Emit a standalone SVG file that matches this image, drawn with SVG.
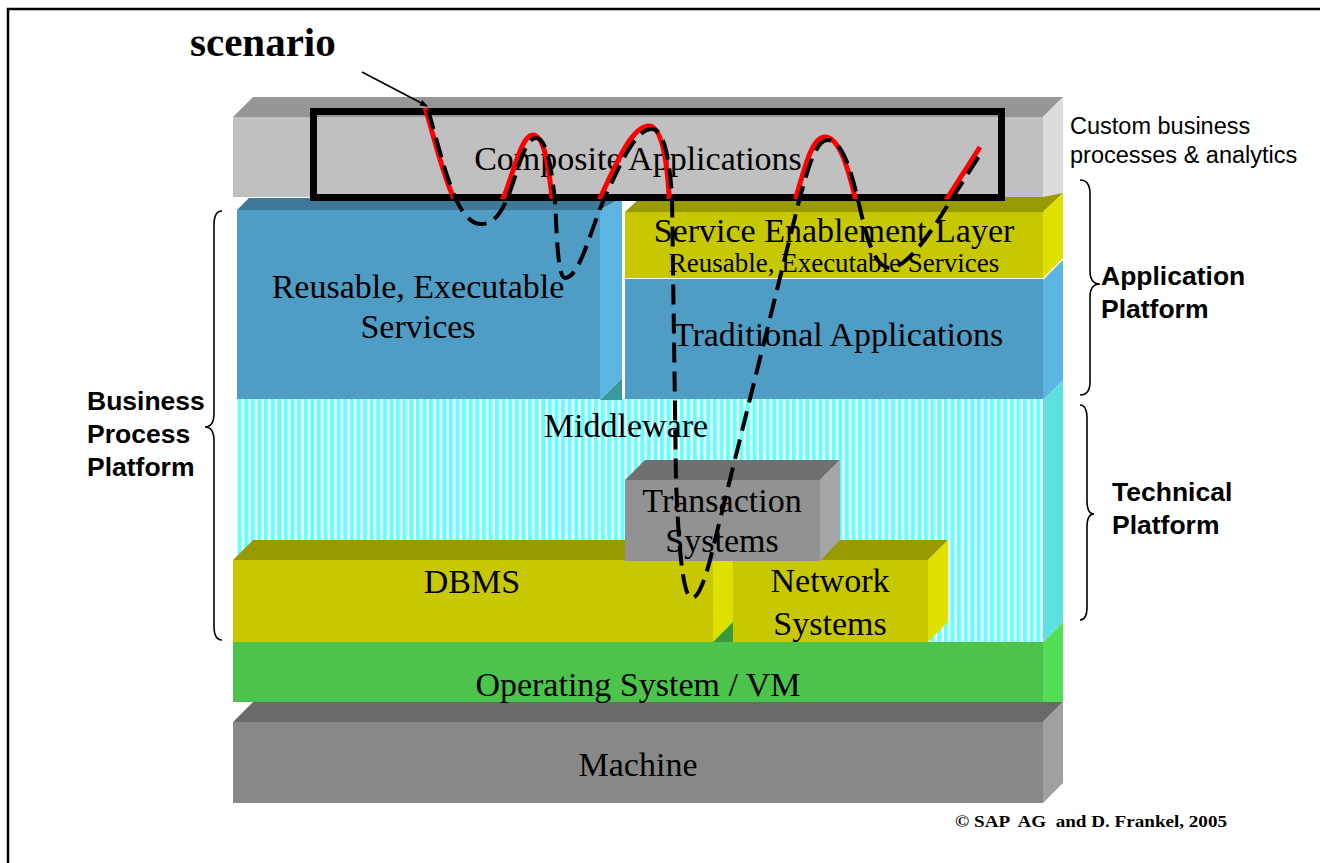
<svg xmlns="http://www.w3.org/2000/svg" width="1320" height="863" viewBox="0 0 1320 863">
<defs>
<style>
.lbl{font-family:"Liberation Serif","Times New Roman",serif;font-size:34px;fill:#000;text-anchor:middle}
.side{font-family:"Liberation Sans",Arial,sans-serif;font-weight:bold;font-size:26.5px;fill:#000}
.brace{fill:none;stroke:#000;stroke-width:1.6}
.scen{fill:none;stroke-linecap:butt;stroke-linejoin:round}
</style>
<pattern id="stripes" width="6.6" height="10" patternUnits="userSpaceOnUse">
<rect width="6.6" height="10" fill="#ffffff"/>
<rect x="0" width="4" height="10" fill="#66ffff"/>
<rect x="4" width="0.8" height="10" fill="#b0ffff"/>
</pattern>
<marker id="ah" markerWidth="8" markerHeight="8" refX="7" refY="4" orient="auto" markerUnits="userSpaceOnUse">
<path d="M0,1 L8,4 L0,7 z" fill="#000"/>
</marker>
<clipPath id="boxclip"><rect x="317" y="108" width="682" height="91"/></clipPath>
</defs>
<rect width="1320" height="863" fill="#fff"/>
<path d="M8,863 V9 H1320" fill="none" stroke="#000" stroke-width="2.5"/>

<g id="machine">
<polygon points="233,722 253,702 1063,702 1043,722" fill="#6a6a6a"/>
<polygon points="1043,722 1063,702 1063,783 1043,803" fill="#a0a0a0"/>
<rect x="233" y="722" width="810" height="81" fill="#888888"/>
<text class="lbl" x="638" y="776">Machine</text>
</g>

<g id="os">
<rect x="233" y="642" width="810" height="60" fill="#4cc44c"/>
<polygon points="1043,642 1063,622 1063,702 1043,702" fill="#55dd55"/>
<text class="lbl" x="638" y="696">Operating System / VM</text>
</g>

<g id="middleware">
<rect x="237" y="399" width="806" height="243" fill="url(#stripes)"/>
<polygon points="1043,400 1063,380 1063,622 1043,642" fill="#5ce0e0"/>
<polygon points="600,400 622,378 622,400" fill="#3a9a9a"/>
<text class="lbl" x="626" y="437">Middleware</text>
</g>

<g id="dbms">
<polygon points="233,560 253,540 733,540 713,560" fill="#999900"/>
<polygon points="713,560 733,540 733,622 713,642" fill="#e0e000"/>
<polygon points="713,642 733,622 733,642" fill="#3a9a3a"/>
<rect x="233" y="560" width="480" height="82" fill="#c8c800"/>
<text class="lbl" x="472" y="593">DBMS</text>
</g>

<g id="network">
<polygon points="733,560 753,540 948,540 928,560" fill="#999900"/>
<polygon points="928,560 948,540 948,622 928,642" fill="#e0e000"/>
<rect x="733" y="560" width="195" height="82" fill="#c8c800"/>
<text class="lbl" x="830" y="592">Network</text>
<text class="lbl" x="830" y="635">Systems</text>
</g>

<g id="transaction">
<polygon points="625,480 645,460 840,460 820,480" fill="#707070"/>
<polygon points="820,480 840,460 840,540 820,561" fill="#a6a6a6"/>
<rect x="625" y="480" width="195" height="81" fill="#929292"/>
<text class="lbl" x="722" y="512">Transaction</text>
<text class="lbl" x="722" y="552">Systems</text>
</g>

<g id="reusable">
<polygon points="237,210 249,198 622,198 600,210" fill="#3d7899"/>
<polygon points="600,210 622,198 622,378 600,400" fill="#5bb5e0"/>
<rect x="237" y="210" width="363" height="189" fill="#4f9cc5"/>
<text class="lbl" x="418" y="298">Reusable, Executable</text>
<text class="lbl" x="418" y="338">Services</text>
</g>

<g id="traditional">
<polygon points="1043,280 1063,260 1063,380 1043,400" fill="#5bb5e0"/>
<rect x="625" y="279" width="418" height="120" fill="#4f9cc5"/>
<text class="lbl" x="838" y="346">Traditional Applications</text>
</g>

<g id="service-enablement">
<polygon points="625,212 645,193 1063,193 1043,212" fill="#999900"/>
<polygon points="1043,212 1063,193 1063,258 1043,278" fill="#e0e000"/>
<rect x="625" y="212" width="418" height="66" fill="#c8c800"/>
<text class="lbl" x="834" y="242">Service Enablement Layer</text>
<text class="lbl" x="834" y="272" style="font-size:27px">Reusable, Executable Services</text>
</g>

<g id="composite">
<polygon points="233,117 253,97 1063,97 1043,117" fill="#969696"/>
<polygon points="1043,117 1063,97 1063,193 1043,197" fill="#dcdcdc"/>
<rect x="233" y="117" width="810" height="80" fill="#c0c0c0"/>
<text class="lbl" x="638" y="170">Composite Applications</text>
<rect x="313.5" y="111.5" width="688" height="86" fill="none" stroke="#000" stroke-width="7"/>
</g>

<g id="labels">
<text x="190" y="56" style="font-family:'Liberation Serif','Times New Roman',serif;font-weight:bold;font-size:41px">scenario</text>
<text x="1070" y="134" style="font-family:'Liberation Sans',Arial,sans-serif;font-size:23.5px">Custom business</text>
<text x="1070" y="163" style="font-family:'Liberation Sans',Arial,sans-serif;font-size:23.5px">processes &amp; analytics</text>
<text class="side" x="1101" y="285">Application</text>
<text class="side" x="1101" y="318">Platform</text>
<text class="side" x="1112" y="501">Technical</text>
<text class="side" x="1112" y="534">Platform</text>
<text class="side" x="87" y="410">Business</text>
<text class="side" x="87" y="443">Process</text>
<text class="side" x="87" y="476">Platform</text>
<text x="955" y="827" textLength="272" lengthAdjust="spacingAndGlyphs" xml:space="preserve" style="font-family:'Liberation Serif','Times New Roman',serif;font-weight:bold;font-size:16px;white-space:pre">© SAP  AG  and D. Frankel, 2005</text>
</g>

<g id="connectors">
<path class="brace" d="M222,211 Q214,211 214,225 L214,413 Q214,427 205,427 Q214,427 214,441 L214,626 Q214,640 222,640"/>
<path class="brace" d="M1080,180 Q1090,180 1090,194 L1090,271 Q1090,284 1100,284 Q1090,284 1090,297 L1090,382 Q1090,395 1080,395"/>
<path class="brace" d="M1080,405 Q1087,405 1087,419 L1087,501 Q1087,514 1094,514 Q1087,514 1087,527 L1087,607 Q1087,620 1080,620"/>
<line x1="362" y1="72" x2="427" y2="106" stroke="#000" stroke-width="1.6" marker-end="url(#ah)"/>
<g clip-path="url(#boxclip)">
<path class="scen" transform="translate(-3,-3)" stroke="#ff0000" stroke-width="5" d="M428,110 C443,160 455,222 480,224 C495,225 502,210 508,197 C518,170 525,138 536,138 C548,138 552,175 555,200 C557,240 558,278 565,278 C580,278 592,225 605,197 C620,165 635,129 652,129 C665,129 670,165 672,197 L676,480 C679,560 684,598 692,598 C700,598 708,570 715,540 L800,197 C808,170 815,140 828,140 C843,140 852,175 858,200 C864,225 872,268 890,268 C905,268 925,240 937,222 L983,150"/>
</g>
<path class="scen" stroke="#000" stroke-width="4" stroke-dasharray="20 9" d="M428,110 C443,160 455,222 480,224 C495,225 502,210 508,197 C518,170 525,138 536,138 C548,138 552,175 555,200 C557,240 558,278 565,278 C580,278 592,225 605,197 C620,165 635,129 652,129 C665,129 670,165 672,197 L676,480 C679,560 684,598 692,598 C700,598 708,570 715,540 L800,197 C808,170 815,140 828,140 C843,140 852,175 858,200 C864,225 872,268 890,268 C905,268 925,240 937,222 L983,150"/>
</g>
</svg>
